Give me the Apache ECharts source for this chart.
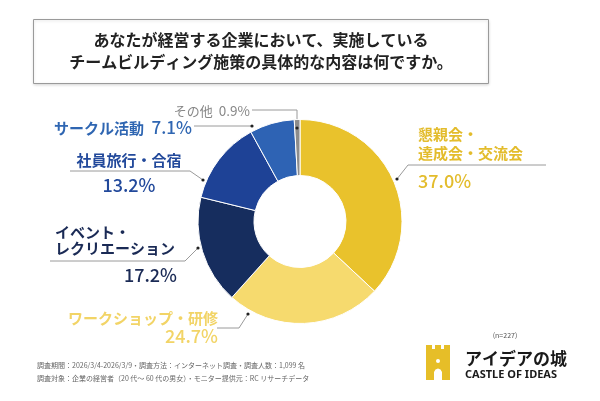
<!DOCTYPE html>
<html><head><meta charset="utf-8">
<script src="https://cdn.jsdelivr.net/npm/echarts@6/dist/echarts.min.js"></script>
<style>html,body{margin:0;padding:0;background:#fff}#c{width:600px;height:401px}</style>
</head><body><div id="c"></div>
<script>
const titleLines = ['あなたが経営する企業において、実施している', 'チームビルディング施策の具体的な内容は何ですか。'];
const categories = ['懇親会・\n達成会・交流会', 'ワークショップ・研修', 'イベント・\nレクリエーション', '社員旅行・合宿', 'サークル活動', 'その他'];
const values = [37.0, 24.7, 17.2, 13.2, 7.1, 0.9];
const sliceColors = ['#E9C22C', '#F6DA6E', '#162D5E', '#1E4296', '#2E63B4', '#8C8C8C'];
const textColors = ['#E3BC2C', '#F2D466', '#1A2A55', '#22499B', '#2F66B2', '#888888'];
const footerLines = ['調査期間：2026/3/4-2026/3/9・調査方法：インターネット調査・調査人数：1,099 名', '調査対象：企業の経営者（20 代～ 60 代の男女）・モニター提供元：RC リサーチデータ'];
const sampleNote = '(n=227)';

// label placement (style)
const labelPos = [
  {x: 418, y: 125, align: 'left', pts: [[397,179],[408,165],[546,165]]},
  {x: 218, y: 309, align: 'right', pts: [[248,314],[239,328],[217,328]]},
  {x: 55, y: 224, align: 'left', pts: [[198,248],[185,261],[50,261]]},
  {x: 129, y: 150, align: 'center', pts: [[203,180],[190,171],[70,171]]},
  {x: 192, y: 119, align: 'right', pts: [[252,126],[223,126],[194,126]]},
  {x: 250, y: 103, align: 'right', pts: [[297,128],[297,110],[252,110]]}
];
const FONT = '"Noto Sans CJK JP", "Noto Sans", sans-serif';

function richFor(i) {
  const c = textColors[i];
  const base = {fontFamily: FONT, fontWeight: 'bold', color: c};
  const vb = {fontFamily: FONT, fontWeight: 500, color: c};
  const r = {};
  if (i === 0) {
    r.n = Object.assign({}, base, {fontSize: 15, lineHeight: 19});
    r.v = Object.assign({}, vb, {fontSize: 18, lineHeight: 37});
  } else if (i === 1) {
    r.n = Object.assign({}, base, {fontSize: 15, lineHeight: 18, align: 'right'});
    r.v = Object.assign({}, vb, {fontSize: 18, lineHeight: 18, align: 'right'});
  } else if (i === 2) {
    r.n = Object.assign({}, base, {fontSize: 15, lineHeight: 16, align: 'left'});
    r.v = Object.assign({}, vb, {fontSize: 18, lineHeight: 38, align: 'right'});
  } else if (i === 3) {
    r.n = Object.assign({}, base, {fontSize: 15, lineHeight: 20});
    r.v = Object.assign({}, vb, {fontSize: 18, lineHeight: 30});
  } else if (i === 4) {
    r.n = Object.assign({}, base, {fontSize: 15, lineHeight: 18});
    r.v = Object.assign({}, vb, {fontSize: 17, lineHeight: 18});
  } else {
    r.n = Object.assign({}, base, {fontSize: 13, lineHeight: 16, fontWeight: 'normal'});
    r.v = Object.assign({}, base, {fontSize: 13.5, lineHeight: 16, fontWeight: 'normal'});
  }
  return r;
}

const data = categories.map((name, i) => ({
  name, value: values[i],
  itemStyle: {color: sliceColors[i]},
  label: {
    rich: richFor(i),
    width: i === 2 ? 122 : undefined,
    formatter: (p) => {
      const v = p.value.toFixed(1) + '%';
      const lines = p.name.split('\n').map(s => '{n|' + s + '}');
      if (i >= 4) return '{n|' + p.name + '}{v|  ' + v + '}';
      return lines.join('\n') + '\n{v|' + v + '}';
    }
  }
}));

const chart = echarts.init(document.getElementById('c'), null, {renderer: 'canvas'});

const graphics = [
  {type: 'rect', shape: {x: 33.5, y: 19.5, width: 455, height: 64}, style: {fill: '#fff', stroke: '#9a9a9a', lineWidth: 1, shadowBlur: 3, shadowColor: 'rgba(0,0,0,0.15)', shadowOffsetY: 1}, z: 1},
  {type: 'text', x: 261, y: 40, style: {text: titleLines[0], fill: '#222', font: 'bold 16px ' + FONT, textAlign: 'center', textVerticalAlign: 'middle'}, z: 2},
  {type: 'text', x: 261, y: 62, style: {text: titleLines[1], fill: '#222', font: 'bold 16px ' + FONT, textAlign: 'center', textVerticalAlign: 'middle'}, z: 2},
  {type: 'text', x: 37, y: 365, style: {text: footerLines[0], fill: '#666', font: '7px ' + FONT, textAlign: 'left', textVerticalAlign: 'middle'}},
  {type: 'text', x: 37, y: 378, style: {text: footerLines[1], fill: '#666', font: '7px ' + FONT, textAlign: 'left', textVerticalAlign: 'middle'}},
  {type: 'text', x: 505, y: 335, style: {text: sampleNote, fill: '#555', font: '7px ' + FONT, textAlign: 'center', textVerticalAlign: 'middle'}},
  // castle logo
  {type: 'polygon', shape: {points: [[426,345],[432,345],[432,349],[435,349],[435,345],[441,345],[441,349],[444,349],[444,345],[450,345],[450,380],[442,380],[442,372],[440.5,369.5],[438,368.5],[435.5,369.5],[434,372],[434,380],[426,380]]}, style: {fill: '#E6BE28'}},
  {type: 'circle', shape: {cx: 438, cy: 361, r: 2}, style: {fill: '#fff'}},
  {type: 'text', x: 465, y: 359, style: {text: 'アイデアの城', fill: '#1a1a1a', font: 'bold 17px ' + FONT, textAlign: 'left', textVerticalAlign: 'middle'}},
  {type: 'text', x: 465, y: 375, style: {text: 'CASTLE OF IDEAS', fill: '#1a1a1a', font: 'bold 11px "Noto Sans", sans-serif', textAlign: 'left', textVerticalAlign: 'middle'}}
];
labelPos.forEach(p => {
  graphics.push({type: 'circle', shape: {cx: p.pts[0][0], cy: p.pts[0][1], r: 1.6}, style: {fill: '#222'}, z: 10});
});

chart.setOption({
  animation: false,
  backgroundColor: '#fff',
  graphic: graphics,
  series: [{
    type: 'pie',
    center: [300, 221.5],
    radius: [46, 102],
    startAngle: 90,
    clockwise: true,
    avoidLabelOverlap: false,
    itemStyle: {borderColor: '#fff', borderWidth: 1},
    label: {show: true, position: 'outside'},
    labelLine: {show: true, lineStyle: {color: '#9a9a9a', width: 1}},
    labelLayout: (params) => {
      const p = labelPos[params.dataIndex];
      return {x: p.x, y: p.y, align: p.align, verticalAlign: 'top', labelLinePoints: p.pts};
    },
    emphasis: {disabled: true},
    data
  }]
});
</script>
</body></html>
